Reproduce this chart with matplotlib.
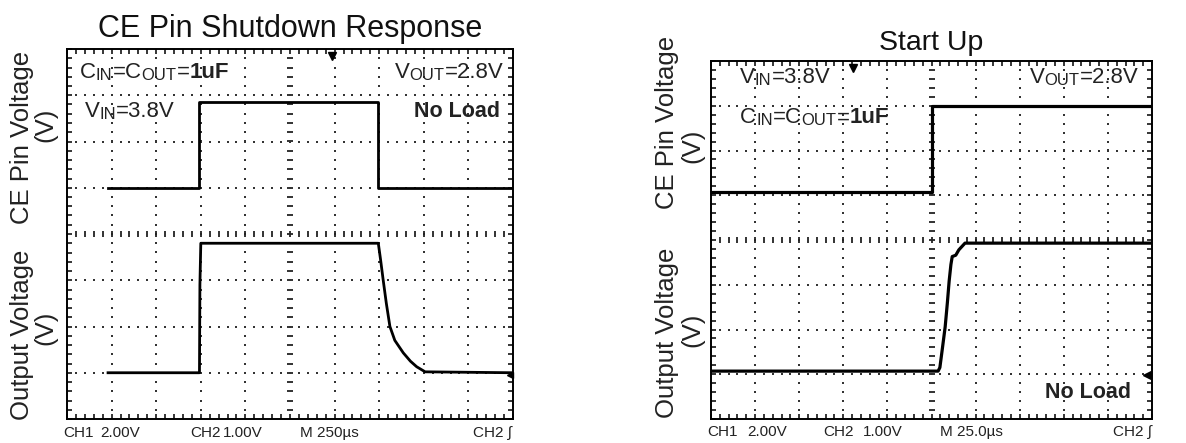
import numpy as np
import matplotlib.pyplot as plt

plt.rcParams['font.family'] = ['Liberation Sans', 'DejaVu Sans']

# traces, in screen divisions (10 x 8 graticule)
sd_ce_t = [0.92, 2.97, 2.97, 6.98, 6.98, 10.0]
sd_ce_v = [5.0, 5.0, 6.85, 6.85, 5.0, 5.0]
sd_out_t = [0.92, 2.97, 2.98, 3.0, 6.98, 7.03, 7.09, 7.16, 7.24, 7.35, 7.54, 7.7, 7.84, 8.03, 10.0]
sd_out_v = [1.0, 1.0, 2.9, 3.8, 3.8, 3.45, 3.0, 2.5, 2.0, 1.7, 1.43, 1.25, 1.13, 1.02, 1.0]

su_ce_t = [0.0, 5.0, 5.0, 10.0]
su_ce_v = [5.07, 5.07, 7.0, 7.0]
su_out_t = [0.0, 5.15, 5.19, 5.25, 5.31, 5.36, 5.40, 5.44, 5.47, 5.55, 5.62, 5.76, 10.0]
su_out_v = [1.07, 1.07, 1.15, 1.6, 2.06, 2.6, 3.08, 3.45, 3.63, 3.66, 3.78, 3.93, 3.93]

# scope readout under each screen
sd_readout = ['CH1', '2.00V', 'CH2', '1.00V', 'M 250µs', 'CH2 ∫']
su_readout = ['CH1', '2.00V', 'CH2', '1.00V', 'M 25.0µs', 'CH2 ∫']
sd_readout_x = [-0.09, 0.74, 2.76, 3.5, 5.22, 9.1]
su_readout_x = [-0.09, 0.82, 2.54, 3.45, 5.19, 9.12]

W, H = 1186, 443
fig = plt.figure(figsize=(W / 100, H / 100), dpi=100)
ax1 = fig.add_axes([67 / W, 24 / H, 446 / W, 370 / H])
ax2 = fig.add_axes([711 / W, 24 / H, 441 / W, 358 / H])


def graticule(ax):
    ax.set_xlim(0, 10)
    ax.set_ylim(0, 8)
    ax.set_xticks(np.arange(0, 10.01, 0.2))
    ax.set_yticks(np.arange(0, 8.01, 0.2))
    ax.tick_params(direction='in', length=3.5, width=1.1, top=True, right=True,
                   labelbottom=False, labelleft=False)
    for s in ax.spines.values():
        s.set_linewidth(1.4)
    ys = np.arange(0.2, 8, 0.2)
    xs = np.arange(0.2, 10, 0.2)
    for i in range(1, 10):
        if i == 5:
            ax.plot(np.full(len(ys), i), ys, ls='none', marker='_', ms=4, mew=1.3, color='#222')
        else:
            ax.plot(np.full(len(ys), i), ys, ls='none', marker='s', ms=1.7, mew=0, color='#333')
    for j in range(1, 8):
        if j == 4:
            ax.plot(xs, np.full(len(xs), j), ls='none', marker='|', ms=4, mew=1.3, color='#222')
        else:
            ax.plot(xs, np.full(len(xs), j), ls='none', marker='s', ms=1.7, mew=0, color='#333')


def rich(ax, x, y, parts):
    t = ax.text(x, y, parts[0][0], fontsize=parts[0][1], fontweight=parts[0][2],
                ha='left', va='center', color='#222')
    for s, size, weight in parts[1:]:
        t = ax.annotate(s, xy=(1, 0), xycoords=t, fontsize=size, fontweight=weight,
                        ha='left', va='bottom', color='#222')


def readout(ax, labels, xpos):
    for s, x in zip(labels, xpos):
        ax.text(x, -0.3, s, fontsize=11, ha='left', va='center', clip_on=False, color='#222')


big, small = 16, 12
cin = [('C', big, 'normal'), ('IN', small, 'normal'), ('=C', big, 'normal'),
       ('OUT', small, 'normal'), ('=', big, 'normal'), ('1uF', big, 'bold')]
vin = [('V', big, 'normal'), ('IN', small, 'normal'), ('=3.8V', big, 'normal')]
vout = [('V', big, 'normal'), ('OUT', small, 'normal'), ('=2.8V', big, 'normal')]

# left: CE pin shutdown response
graticule(ax1)
ax1.plot(sd_ce_t, sd_ce_v, color='black', lw=2)
ax1.plot(sd_out_t, sd_out_v, color='black', lw=2)
rich(ax1, 0.29, 7.5, cin)
rich(ax1, 7.35, 7.5, vout)
rich(ax1, 0.4, 6.64, vin)
ax1.text(9.71, 6.64, 'No Load', fontsize=15.5, fontweight='bold', ha='right', va='center', color='#222')
ax1.plot([5.94], [7.85], marker='v', ms=6, color='black', clip_on=False)
ax1.plot([9.93], [0.95], marker='<', ms=4, color='black', clip_on=False)
readout(ax1, sd_readout, sd_readout_x)
ax1.set_title('CE Pin Shutdown Response', fontsize=22, pad=9, color='#111')

# right: start up
graticule(ax2)
ax2.plot(su_ce_t, su_ce_v, color='black', lw=2.3)
ax2.plot(su_out_t, su_out_v, color='black', lw=2.3)
rich(ax2, 0.66, 7.64, vin)
rich(ax2, 7.23, 7.64, vout)
rich(ax2, 0.66, 6.73, cin)
ax2.text(9.52, 0.6, 'No Load', fontsize=15.5, fontweight='bold', ha='right', va='center', color='#222')
ax2.plot([3.22], [7.85], marker='v', ms=6, color='black', clip_on=False)
ax2.plot([9.88], [0.98], marker='<', ms=6, color='black', clip_on=False)
readout(ax2, su_readout, su_readout_x)
ax2.set_title('Start Up', fontsize=20.5, pad=8, color='#111')

# y labels
for x, y, s in [(22, 137, 'CE Pin Voltage'), (45, 125, '(V)'),
                (22, 335, 'Output Voltage'), (45, 328, '(V)'),
                (667, 122, 'CE Pin Voltage'), (692, 146, '(V)'),
                (667, 333, 'Output Voltage'), (692, 330, '(V)')]:
    fig.text(x / W, 1 - y / H, s, rotation=90, fontsize=18.5, ha='center', va='center', color='#222')

fig.savefig('out.png', dpi=100)
